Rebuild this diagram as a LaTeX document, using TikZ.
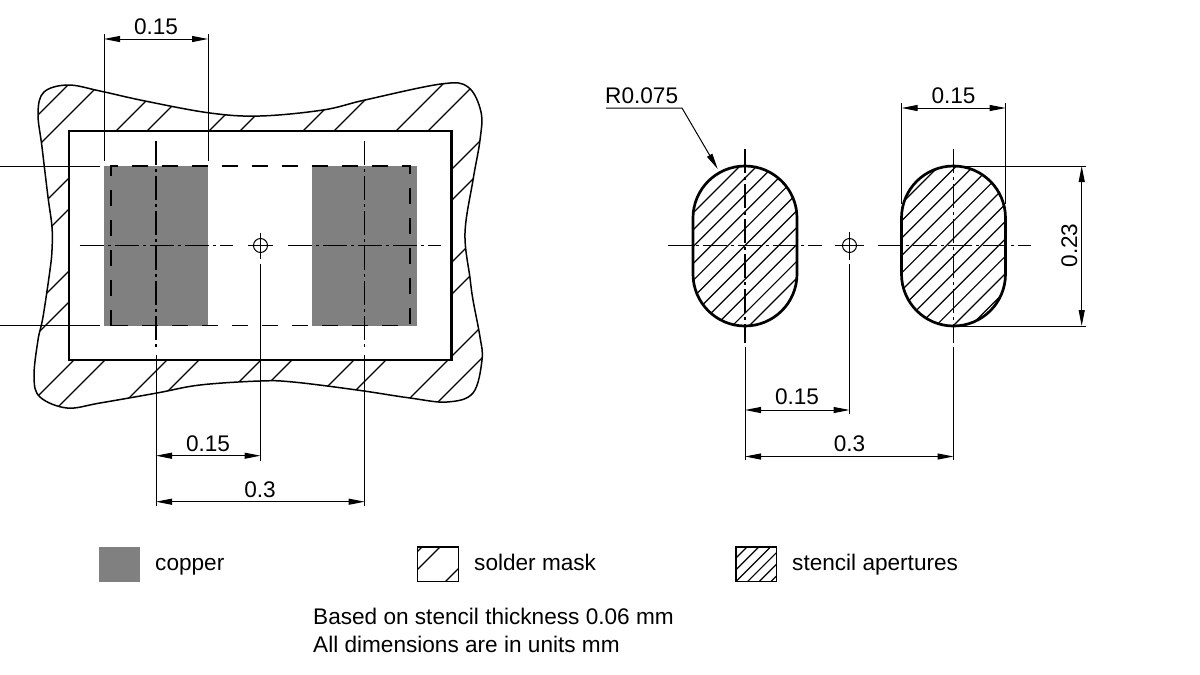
\documentclass[tikz,border=0pt]{standalone}
\usepackage{fontspec}
\setmainfont{Liberation Sans}
\usetikzlibrary{arrows.meta}
\definecolor{copper}{HTML}{808080}
\tikzset{
  x=1pt,y=-1pt,
  thin line/.style={line width=1pt,black},
  hatch line/.style={line width=1.2pt,black},
  outline/.style={line width=2.7pt,black},
  dim line/.style={line width=1pt,black,{Triangle[length=16pt,width=6pt]}-{Triangle[length=16pt,width=6pt]}},
  lead line/.style={line width=1pt,black,-{Triangle[length=16pt,width=6pt]}},
  center line/.style={line width=1.1pt,black,dash pattern=on 24pt off 4pt on 3pt off 4pt},
  hidden line/.style={line width=1.2pt,black,dash pattern=on 16pt off 14pt},
  label/.style={font=\fontsize{22.6}{26}\selectfont,text=black,inner sep=0pt,anchor=base},
  leftlabel/.style={label,anchor=base west},
  legendbox/.style={line width=1.2pt,black},
}
\newcommand{\blobpath}{plot[smooth cycle,tension=0.6] coordinates {(38,113)(44,92)(68,85)(100,91)(145,101)(210,113)(260,116)(323,110)(365,100)(441,84)(468,87)(481,112)(480,140)(473,180)(465,233)(470,278)(473,300)(480,337)(482,360)(473,393)(447,402)(410,398)(357,390)(293,382)(260,381)(200,385)(157,393)(100,403)(67,408)(40,397)(34,377)(38,340)(43,317)(50,270)(52,250)(52,227)(48,197)(42,147)}}
\newcommand{\stadium}[1]{(#1-52,218) arc[start angle=180,end angle=360,radius=52] -- (#1+52,274) arc[start angle=0,end angle=180,radius=52] -- cycle}
\begin{document}
\begin{tikzpicture}
\useasboundingbox (0,0) rectangle (1200,675);
% solder mask blob with sparse hatching
\begin{scope}
  \clip \blobpath;
  \foreach \c in {153,184,247,278,340,371,434,465,527,559,621,652,714,746,808,840}
    \draw[hatch line] (\c-420,420) -- (\c,0);
\end{scope}
\draw[line width=1.5pt] \blobpath;
\draw[outline,fill=white] (69,131) rectangle (451.5,360);
% copper pads
\fill[copper] (104,166) rectangle (208,325.5);
\fill[copper] (312,166) rectangle (416.5,325.5);
\draw[hidden line] (111,325.5) -- (111,166) -- (410,166) -- (410,325.5) -- cycle;
% left view coordinates
\coordinate (La) at (104,34);
\coordinate (Lb) at (208,34);
\coordinate (Lat) at (104,39);
\coordinate (Lbt) at (208,39);
\coordinate (Lae) at (104,161);
\coordinate (Lbe) at (208,161);
\coordinate (Lw1) at (0,166);
\coordinate (Lw1e) at (100,166);
\coordinate (Lw2) at (0,325.5);
\coordinate (Lw2e) at (100,325.5);
\draw[thin line] (La) -- (Lae);
\draw[thin line] (Lb) -- (Lbe);
\draw[dim line] (Lat) -- (Lbt);
\draw[thin line] (Lw1) -- (Lw1e);
\draw[thin line] (Lw2) -- (Lw2e);
\node[label] (tL) at (156,34) {0.15};
% centre lines left
\coordinate (Lh1) at (79.5,245.5);
\coordinate (Lh2) at (233,245.5);
\coordinate (Lh3) at (248,245.5);
\coordinate (Lh4) at (273,245.5);
\coordinate (Lh5) at (288,245.5);
\coordinate (Lh6) at (441,245.5);
\coordinate (Lv1) at (156,141);
\coordinate (Lv2) at (156,350);
\coordinate (Lv3) at (156,355);
\coordinate (Lv4) at (156,506);
\coordinate (Lr1) at (364.7,141);
\coordinate (Lr2) at (364.7,350);
\coordinate (Lr3) at (364.7,355);
\coordinate (Lr4) at (364.7,506);
\coordinate (Lc1) at (260.5,233);
\coordinate (Lc2) at (260.5,259);
\coordinate (Lc3) at (260.5,264);
\coordinate (Lc4) at (260.5,461);
\draw[center line] (Lh1) -- (Lh2);
\draw[thin line] (Lh3) -- (Lh4);
\draw[center line] (Lh5) -- (Lh6);
\draw[center line] (Lv1) -- (Lv2);
\draw[thin line] (Lv3) -- (Lv4);
\draw[center line] (Lr1) -- (Lr2);
\draw[thin line] (Lr3) -- (Lr4);
\draw[thin line] (Lc1) -- (Lc2);
\draw[thin line] (Lc3) -- (Lc4);
\draw[thin line] (260.5,245.5) circle[radius=7];
\coordinate (Ld1) at (156,455.7);
\coordinate (Ld2) at (260.5,455.7);
\coordinate (Ld3) at (156,501.7);
\coordinate (Ld4) at (364.7,501.7);
\draw[dim line] (Ld1) -- (Ld2);
\draw[dim line] (Ld3) -- (Ld4);
\node[label] (tL2) at (208,451) {0.15};
\node[label] (tL3) at (260,497) {0.3};
% stencil apertures
\begin{scope}
  \clip \stadium{745};
  \foreach \k in {0,...,10}
    \draw[hatch line] ({906+16.9*\k-400},400) -- ({906+16.9*\k},0);
\end{scope}
\begin{scope}
  \clip \stadium{953.5};
  \foreach \k in {0,...,11}
    \draw[hatch line] ({1105+17.4*\k-400},400) -- ({1105+17.4*\k},0);
\end{scope}
\draw[outline] \stadium{745};
\draw[outline] \stadium{953.5};
% right view centre lines
\coordinate (Rh1) at (668,245.5);
\coordinate (Rh2) at (822,245.5);
\coordinate (Rh3) at (835,245.5);
\coordinate (Rh4) at (864,245.5);
\coordinate (Rh5) at (878,245.5);
\coordinate (Rh6) at (1031,245.5);
\coordinate (Ra1) at (745,149);
\coordinate (Ra2) at (745,343);
\coordinate (Ra3) at (745,347);
\coordinate (Ra4) at (745,460);
\coordinate (Rb1) at (953.5,149);
\coordinate (Rb2) at (953.5,343);
\coordinate (Rb3) at (953.5,347);
\coordinate (Rb4) at (953.5,460);
\coordinate (Rc1) at (849.5,232);
\coordinate (Rc2) at (849.5,260);
\coordinate (Rc3) at (849.5,264);
\coordinate (Rc4) at (849.5,414);
\draw[center line] (Rh1) -- (Rh2);
\draw[thin line] (Rh3) -- (Rh4);
\draw[center line] (Rh5) -- (Rh6);
\draw[center line] (Ra1) -- (Ra2);
\draw[thin line] (Ra3) -- (Ra4);
\draw[center line] (Rb1) -- (Rb2);
\draw[thin line] (Rb3) -- (Rb4);
\draw[thin line] (Rc1) -- (Rc2);
\draw[thin line] (Rc3) -- (Rc4);
\draw[thin line] (849.5,245.5) circle[radius=7];
% right dims
\coordinate (Rd1) at (745,410);
\coordinate (Rd2) at (849.5,410);
\coordinate (Rd3) at (745,456.5);
\coordinate (Rd4) at (953.5,456.5);
\draw[dim line] (Rd1) -- (Rd2);
\draw[dim line] (Rd3) -- (Rd4);
\node[label] (tR1) at (797,404.5) {0.15};
\node[label] (tR2) at (849.5,451) {0.3};
\coordinate (Re1) at (901.7,103);
\coordinate (Re2) at (901.7,204);
\coordinate (Re3) at (1005.7,103);
\coordinate (Re4) at (1005.7,204);
\coordinate (Re5) at (901.7,108);
\coordinate (Re6) at (1005.7,108);
\draw[thin line] (Re1) -- (Re2);
\draw[thin line] (Re3) -- (Re4);
\draw[dim line] (Re5) -- (Re6);
\node[label] (tR3) at (953.5,103) {0.15};
\coordinate (Rf1) at (953.5,166);
\coordinate (Rf2) at (1086,166);
\coordinate (Rf3) at (953.5,326);
\coordinate (Rf4) at (1086,326);
\coordinate (Rf5) at (1081.7,166);
\coordinate (Rf6) at (1081.7,326);
\draw[thin line] (Rf1) -- (Rf2);
\draw[thin line] (Rf3) -- (Rf4);
\draw[dim line] (Rf5) -- (Rf6);
\node[label,rotate=90] (tR4) at (1077,245.5) {0.23};
\node[leftlabel] (tR5) at (605,103) {R0.075};
\coordinate (Rl1) at (606,108);
\coordinate (Rl2) at (682,108);
\coordinate (Rl3) at (717.7,169);
\draw[lead line] (Rl1) -- (Rl2) -- (Rl3);
% legend
\fill[copper] (98.5,547) rectangle (140,581.7);
\node[leftlabel] (t1) at (155,570) {copper};
\begin{scope}
  \clip (417.5,547) rectangle (458.5,581.7);
  \foreach \c in {969,987,1027}
    \draw[hatch line] (\c-600,600) -- (\c-500,500);
\end{scope}
\draw[legendbox] (417.5,547) rectangle (458.5,581.7);
\node[leftlabel] (t2) at (474,570) {solder mask};
\begin{scope}
  \clip (736,547) rectangle (776.7,581.7);
  \foreach \k in {0,...,5}
    \draw[hatch line] ({1294+11.7*\k-600},600) -- ({1294+11.7*\k-500},500);
\end{scope}
\draw[legendbox] (736,547) rectangle (776.7,581.7);
\node[leftlabel] (t3) at (792,570) {stencil apertures};
\node[leftlabel] (t4) at (313,624) {Based on stencil thickness 0.06 mm};
\node[leftlabel] (t5) at (313,652) {All dimensions are in units mm};
\end{tikzpicture}
\end{document}
